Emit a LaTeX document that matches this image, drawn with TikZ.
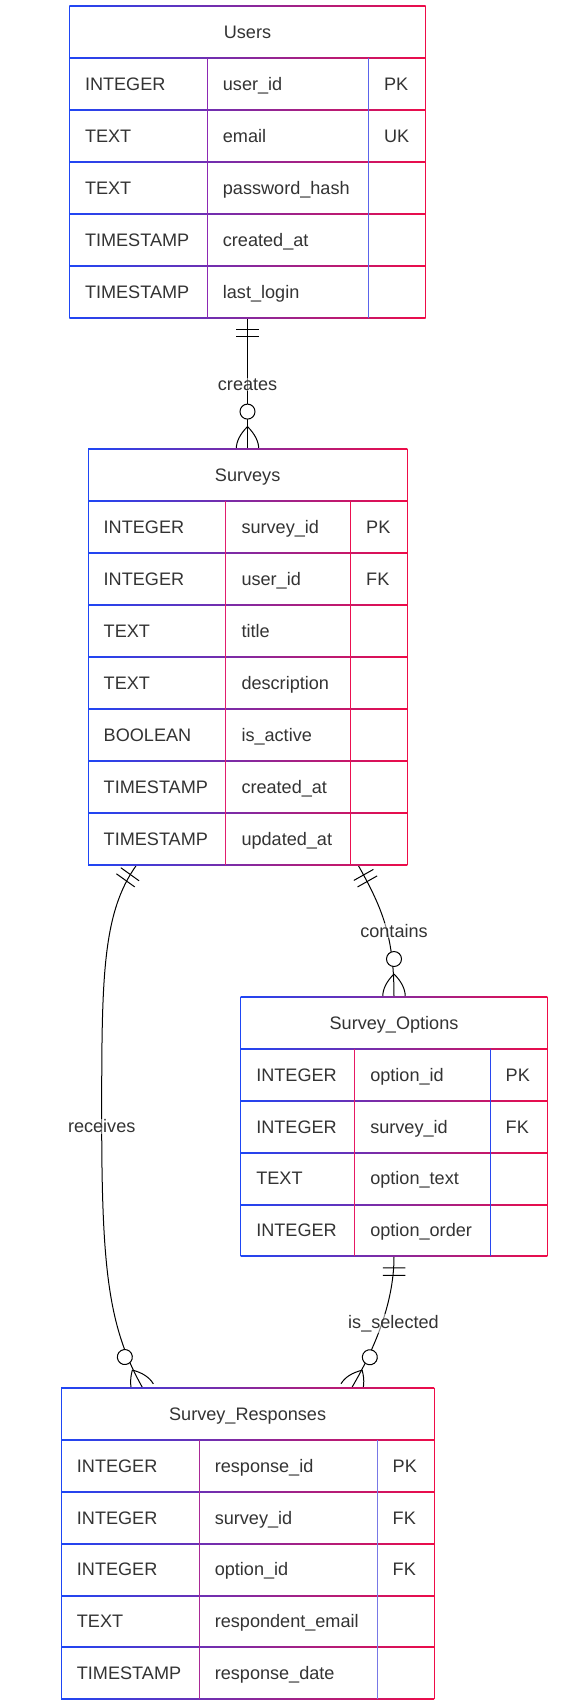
\documentclass[tikz,border=0pt]{standalone}
\usepackage{fontspec}
\setmainfont{Liberation Sans}
\usetikzlibrary{calc,fit,decorations.markings}
\definecolor{gblue}{RGB}{30,70,245}
\definecolor{gred}{RGB}{238,12,72}
\definecolor{txt}{RGB}{51,51,51}
\pgfdeclarelayer{back}
\pgfdeclarelayer{bg}
\pgfsetlayers{back,bg,main}
\tikzset{
  celltext/.style={font=\fontsize{18.1}{21}\selectfont, text=txt, inner sep=0pt},
  lbl/.style={celltext, fill=white, fill opacity=0.5, text opacity=1, inner sep=1pt},
  conn/.style={draw=black, line width=1pt},
  one start/.style={postaction={decorate, decoration={markings, mark=at position 0 with {
      \draw[black, line width=1pt] (11.25pt,-11.25pt) -- (11.25pt,11.25pt)
                                   (18.75pt,-11.25pt) -- (18.75pt,11.25pt);}}}},
  many end/.style={postaction={decorate, decoration={markings, mark=at position 1 with {
      \draw[black, line width=1pt, fill=white] (-37.5pt,0pt) circle[radius=7.5pt];
      \draw[black, line width=1pt] (-22.5pt,0pt) .. controls (-15pt,7.5pt) and (-7.5pt,11.25pt) .. (0pt,11.25pt)
                                   (-22.5pt,0pt) .. controls (-15pt,-7.5pt) and (-7.5pt,-11.25pt) .. (0pt,-11.25pt);}}}},
}
% #1 name #2 x0 #3 y0 #4 d1 #5 d2 #6 x1 #7 title #8 nrows #9 rows
\newcommand{\ertable}[9]{%
  \pgfmathsetmacro{\ybot}{#3+(#8+1)*51.95}%
  \pgfmathtruncatemacro{\nlines}{#8+1}%
  \coordinate (#1-nw) at (#2,#3);
  \coordinate (#1-se) at (#6,\ybot);
  \node[fit=(#1-nw)(#1-se), inner sep=0pt] (#1) {};
  \fill[white] (#1-nw) rectangle (#1-se);
  \foreach \k in {0,...,\nlines}{%
    \shade[left color=gblue, right color=gred] (#2,{#3+\k*51.95-0.5}) rectangle (#6,{#3+\k*51.95+0.5});
  }
  \draw[gblue, line width=1pt] (#2,#3) -- (#2,\ybot);
  \draw[gred, line width=1pt] (#6,#3) -- (#6,\ybot);
  \draw[dA, line width=1pt] (#4,#3+51.95) -- (#4,\ybot);
  \draw[dB, line width=1pt] (#5,#3+51.95) -- (#5,\ybot);
  \node[celltext, anchor=base] (#1-title) at ({(#2+#6)/2},#3+32.4) {#7};
  \foreach \ty/\nm/\ky [count=\i] in {#9}{%
    \node[celltext, anchor=base west] (#1-ty\i) at (#2+15.5,{#3+\i*51.95+32.4}) {\ty};
    \node[celltext, anchor=base west] (#1-nm\i) at (#4+15.5,{#3+\i*51.95+32.4}) {\nm};
    \node[celltext, anchor=base west] (#1-ky\i) at (#5+15.5,{#3+\i*51.95+32.4}) {\ky};
  }
}
\begin{document}
\begin{tikzpicture}[x=1pt,y=-1pt]
\useasboundingbox (0,0) rectangle (562,1702);
\begin{pgfonlayer}{back}
  \fill[white] (0,0) rectangle (562,1702);
\end{pgfonlayer}

\colorlet{dA}{rgb,255:red,140;green,40;blue,180}
\colorlet{dB}{rgb,255:red,90;green,100;blue,235}
\ertable{users}{69.3}{6}{207.2}{368.3}{425.7}{Users}{5}{%
  INTEGER/user\_id/PK, TEXT/email/UK, TEXT/password\_hash/{}, TIMESTAMP/created\_at/{}, TIMESTAMP/last\_login/{}}

\colorlet{dA}{rgb,255:red,225;green,30;blue,110}
\colorlet{dB}{rgb,255:red,235;green,15;blue,80}
\ertable{surveys}{88}{449.3}{225.8}{350.5}{407.3}{Surveys}{7}{%
  INTEGER/survey\_id/PK, INTEGER/user\_id/FK, TEXT/title/{}, TEXT/description/{}, BOOLEAN/is\_active/{}, TIMESTAMP/created\_at/{}, TIMESTAMP/updated\_at/{}}

\colorlet{dA}{rgb,255:red,230;green,25;blue,100}
\colorlet{dB}{rgb,255:red,40;green,70;blue,240}
\ertable{options}{240.6}{996.7}{354.6}{490}{547.4}{Survey\_Options}{4}{%
  INTEGER/option\_id/PK, INTEGER/survey\_id/FK, TEXT/option\_text/{}, INTEGER/option\_order/{}}

\colorlet{dA}{rgb,255:red,170;green,40;blue,150}
\colorlet{dB}{rgb,255:red,120;green,120;blue,230}
\ertable{responses}{61.2}{1387.7}{199.1}{377}{434}{Survey\_Responses}{5}{%
  INTEGER/response\_id/PK, INTEGER/survey\_id/FK, INTEGER/option\_id/FK, TEXT/respondent\_email/{}, TIMESTAMP/response\_date/{}}

\coordinate (recv-s) at ($(surveys.south west)+(48.7,0)$);
\coordinate (recv-m) at (101.7,1120);
\coordinate (recv-e) at ($(responses.north west)+(82.6,2)$);
\coordinate (cont-s) at ($(surveys.south west)+(270.3,0)$);
\coordinate (sel-e) at ($(responses.north west)+(289.7,2)$);

\begin{pgfonlayer}{bg}
  \draw[conn, one start, many end] (users.south) -- (users.south |- surveys.north);
  \draw[conn, one start, many end] (recv-s) .. controls +(-34.8,48.6) and +(0,-140) .. (recv-m)
        .. controls +(0,150) and +(-35,-60.6) .. (recv-e);
  \draw[conn, one start, many end] (cont-s) .. controls +(24.5,43.5) and +(0,-60) .. (options.north);
  \draw[conn, one start, many end] (options.south) .. controls +(0,50) and +(20.4,-34.4) .. (sel-e);
\end{pgfonlayer}

\node[lbl, anchor=base] (l-creates) at (247.6,390.3) {creates};
\node[lbl, anchor=base] (l-receives) at (101.7,1132.7) {receives};
\node[lbl, anchor=base] (l-contains) at (394,937.3) {contains};
\node[lbl, anchor=base] (l-selected) at (393.5,1328.3) {is\_selected};
\end{tikzpicture}
\end{document}
